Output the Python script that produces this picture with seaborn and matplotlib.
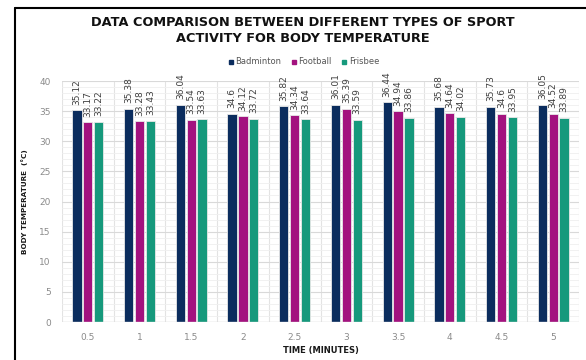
import matplotlib
matplotlib.use("Agg")
import matplotlib.pyplot as plt
import seaborn as sns
import pandas as pd
from matplotlib.lines import Line2D
from matplotlib.ticker import MultipleLocator

times = ["0.5", "1", "1.5", "2", "2.5", "3", "3.5", "4", "4.5", "5"]
badminton = [35.12, 35.38, 36.04, 34.6, 35.82, 36.01, 36.44, 35.68, 35.73, 36.05]
football = [33.17, 33.28, 33.54, 34.12, 34.34, 35.39, 34.94, 34.64, 34.6, 34.52]
frisbee = [33.22, 33.43, 33.63, 33.72, 33.64, 33.59, 33.86, 34.02, 33.95, 33.89]
series_names = ["Badminton", "Football", "Frisbee"]
colors = ["#0b2d5e", "#a3127f", "#16997c"]

rows = []
for name, vals in zip(series_names, [badminton, football, frisbee]):
    for t, v in zip(times, vals):
        rows.append({"Time": t, "Sport": name, "Temp": v})
df = pd.DataFrame(rows)

sns.set_theme(style="white")
plt.rcParams['font.family'] = ['DejaVu Sans']

fig = plt.figure(figsize=(5.86, 3.6), dpi=100)
ax = fig.add_axes([62/586, 1 - 322/360, (579-62)/586, (322-81)/360])

sns.barplot(data=df, x="Time", y="Temp", hue="Sport", order=times,
            hue_order=series_names, palette=colors, width=0.63, gap=0.15,
            edgecolor="#e8e8e8", linewidth=0.6, ax=ax, legend=False,
            errorbar=None, saturation=1)

ax.set_ylim(0, 40)
ax.set_xlim(-0.5, len(times) - 0.5)
ax.yaxis.set_major_locator(MultipleLocator(5))
ax.yaxis.set_minor_locator(MultipleLocator(1))
ax.grid(which="major", axis="y", color="#d9d9d9", linewidth=0.8, zorder=0)
ax.grid(which="minor", axis="y", color="#efefef", linewidth=0.6, zorder=0)
for b in range(len(times) + 1):
    ax.axvline(b - 0.5, color="#e3e3e3", linewidth=0.8, zorder=0)
ax.set_axisbelow(True)
for s in ax.spines.values():
    s.set_visible(False)
ax.axhline(0, color="#d9d9d9", linewidth=1.0, zorder=1)

ax.tick_params(axis="both", which="both", length=0, labelsize=6.5,
               labelcolor="#8a8a8a")
ax.tick_params(axis="x", pad=8)
ax.tick_params(axis="y", pad=8)

for cont in ax.containers:
    ax.bar_label(cont, labels=[f"{v:g}" for v in cont.datavalues],
                 rotation=90, padding=4, fontsize=6.5, color="#404040")

ax.set_xlabel("TIME (MINUTES)", fontsize=6, fontweight="bold", color="#1a1a1a",
              labelpad=3)
ax.set_ylabel("BODY TEMPERATURE  (°C)", fontsize=5.2, fontweight="bold",
              color="#1a1a1a", labelpad=8)

fig.text(0.517, 1 - 22/360, "DATA COMPARISON BETWEEN DIFFERENT TYPES OF SPORT",
         ha="center", va="center", fontsize=9.3, fontweight="bold", color="#111111")
fig.text(0.517, 1 - 39/360, "ACTIVITY FOR BODY TEMPERATURE",
         ha="center", va="center", fontsize=9.3, fontweight="bold", color="#111111")

handles = [Line2D([0], [0], marker="s", linestyle="none", markersize=3.5,
                  markerfacecolor=c, markeredgecolor=c) for c in colors]
fig.legend(handles, series_names, loc="center", bbox_to_anchor=(0.517, 1 - 62/360),
           ncol=3, frameon=False, fontsize=6, handletextpad=0.05,
           columnspacing=1.0, handlelength=1.0, labelcolor="#555555")

# outer border (left and top)
fig.add_artist(Line2D([15/586, 15/586], [0, 1 - 8/360], color="black",
                      linewidth=1.5, transform=fig.transFigure))
fig.add_artist(Line2D([15/586, 1], [1 - 8/360, 1 - 8/360], color="black",
                      linewidth=1.5, transform=fig.transFigure))

fig.savefig("out.png", dpi=100)
